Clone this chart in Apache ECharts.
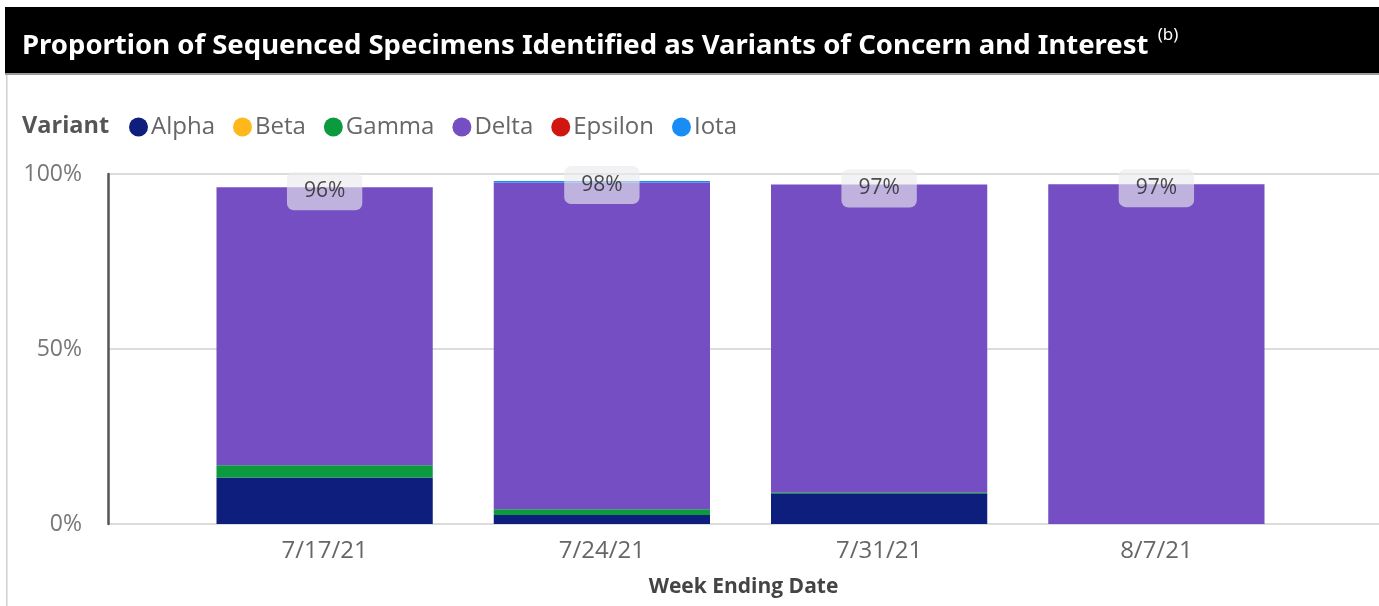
<!DOCTYPE html>
<html>
<head>
<meta charset="utf-8">
<script src="https://cdn.jsdelivr.net/npm/echarts@6/dist/echarts.min.js"></script>
<style>
  html, body { margin: 0; padding: 0; background: #fff; }
  #chart { width: 1379px; height: 606px; }
</style>
</head>
<body>
<div id="chart"></div>
<script>
// week ending dates
const weeks = ['7/17/21', '7/24/21', '7/31/21', '8/7/21']

// share of sequenced specimens, percent
const alpha = [13.3, 2.6, 8.6, 0]
const beta = [0, 0, 0, 0]
const gamma = [3.5, 1.6, 0.3, 0]
const delta = [79.4, 93.4, 88.1, 97.1]
const epsilon = [0, 0, 0, 0]
const iota = [0, 0.4, 0, 0]

const yTicks = [0, 50, 100]

const variants = [
  { name: 'Alpha', data: alpha, color: '#0d1e7c' },
  { name: 'Beta', data: beta, color: '#ffb81c' },
  { name: 'Gamma', data: gamma, color: '#0b9a3e' },
  { name: 'Delta', data: delta, color: '#744ec2' },
  { name: 'Epsilon', data: epsilon, color: '#d0160f' },
  { name: 'Iota', data: iota, color: '#1a8cf5' }
]

const totals = weeks.map((w, i) => variants.reduce((s, v) => s + v.data[i], 0))

const chart = echarts.init(document.getElementById('chart'))
const font = '"Open Sans", "Noto Sans", sans-serif'

const option = {
  backgroundColor: '#fff',
  animation: false,
  textStyle: { fontFamily: font },
  graphic: [
    { type: 'rect', shape: { x: 5, y: 7, width: 1374, height: 66 }, style: { fill: '#000' }, z: -1 },
    { type: 'rect', shape: { x: 5, y: 73, width: 1374, height: 2 }, style: { fill: '#9a9a9a' }, z: -1 },
    { type: 'rect', shape: { x: 6, y: 75, width: 1.5, height: 531 }, style: { fill: '#cfcfcf' }, z: -1 }
  ],
  title: [
    {
      text: 'Proportion of Sequenced Specimens Identified as Variants of Concern and Interest {sup|(b)}',
      left: 17,
      top: 22,
      textStyle: {
        color: '#fff',
        fontSize: 27.5,
        fontWeight: 'bold',
        fontFamily: '"Noto Sans", sans-serif',
        rich: {
          sup: { color: '#fff', fontSize: 17, fontWeight: 'normal', verticalAlign: 'top', padding: [0, 0, 22, 2] }
        }
      }
    },
    {
      text: 'Variant',
      left: 17,
      top: 109,
      textStyle: { color: '#555', fontSize: 23.5, fontWeight: 'bold', fontFamily: font }
    }
  ],
  legend: {
    left: 124,
    top: 110,
    icon: 'circle',
    itemWidth: 19,
    itemHeight: 19,
    itemGap: 18,
    textStyle: { color: '#666', fontSize: 24, padding: [0, 0, 0, -2] },
    data: variants.map(v => v.name)
  },
  grid: [
    { left: 108, right: 0, top: 174, bottom: 82 },
    { left: 186, right: 84, top: 174, bottom: 82 }
  ],
  xAxis: [
    {
      gridIndex: 0,
      type: 'category',
      data: weeks,
      axisLine: { show: false },
      axisTick: { show: false },
      axisLabel: { show: false },
      name: 'Week Ending Date',
      nameLocation: 'middle',
      nameGap: 53,
      nameTextStyle: { color: '#444', fontSize: 21, fontWeight: 'bold' }
    },
    {
      gridIndex: 1,
      type: 'category',
      data: weeks,
      axisLine: { show: false },
      axisTick: { show: false },
      axisLabel: { color: '#666', fontSize: 24, margin: 15 }
    }
  ],
  yAxis: [
    {
      gridIndex: 0,
      type: 'value',
      min: yTicks[0],
      max: yTicks[yTicks.length - 1],
      interval: yTicks[1] - yTicks[0],
      axisLine: { show: true, lineStyle: { color: '#555', width: 2.5 } },
      axisTick: { show: false },
      axisLabel: { color: '#777', fontSize: 23, margin: 26, formatter: '{value}%' },
      splitLine: { lineStyle: { color: '#dcdcdc', width: 2 } }
    },
    {
      gridIndex: 1,
      type: 'value',
      min: yTicks[0],
      max: yTicks[yTicks.length - 1],
      interval: yTicks[1] - yTicks[0],
      axisLine: { show: false },
      axisTick: { show: false },
      axisLabel: { show: false },
      splitLine: { show: false }
    }
  ],
  series: [
    ...variants.map(v => ({
      name: v.name,
      type: 'bar',
      stack: 'total',
      xAxisIndex: 1,
      yAxisIndex: 1,
      barWidth: '78%',
      itemStyle: { color: v.color },
      data: v.data
    })),
    {
      name: 'Total',
      type: 'scatter',
      xAxisIndex: 1,
      yAxisIndex: 1,
      symbolSize: 0,
      z: 10,
      data: totals.map((t, i) => [weeks[i], t]),
      label: {
        show: true,
        position: 'inside',
        offset: [0, 4],
        formatter: p => Math.round(p.value[1]) + '%',
        color: '#222',
        fontSize: 21,
        backgroundColor: 'rgba(234,234,238,0.8)',
        borderRadius: 7,
        padding: [9, 17, 8, 17]
      }
    }
  ]
}

chart.setOption(option)
</script>
</body>
</html>
